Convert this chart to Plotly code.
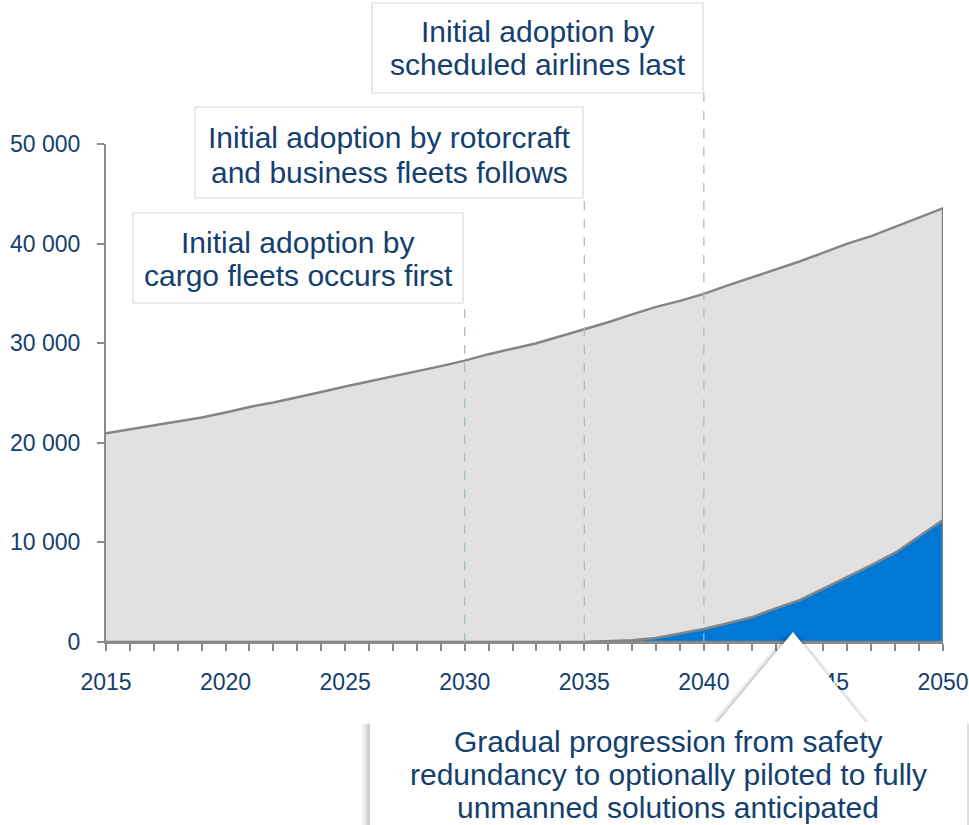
import plotly.graph_objects as go

# ---------------- data ----------------
years = list(range(2015, 2051))
total_fleet = [20950, 21350, 21750, 22150, 22550, 23050, 23600, 24050, 24550, 25100,
               25650, 26150, 26650, 27200, 27700, 28250, 28900, 29450, 30000, 30700,
               31400, 32100, 32900, 33650, 34250, 34950, 35800, 36600, 37400, 38200,
               39100, 40000, 40750, 41700, 42650, 43550]
auto_years = list(range(2035, 2051))
autonomous_fleet = [0, 80, 180, 400, 870, 1300, 1880, 2480, 3380, 4200,
                    5350, 6500, 7730, 8970, 10570, 12250]
major_ticks = [2015, 2020, 2025, 2030, 2035, 2040, 2045, 2050]
y_ticks = [0, 10000, 20000, 30000, 40000, 50000]

milestones = [2030, 2035, 2040]
milestone_text = [
    ["Initial adoption by", "cargo fleets occurs first"],
    ["Initial adoption by rotorcraft", "and business fleets follows"],
    ["Initial adoption by", "scheduled airlines last"],
]
callout_text = ["Gradual progression from safety",
                "redundancy to optionally piloted to fully",
                "unmanned solutions anticipated"]

# ---------------- layout helpers ----------------
W, H = 969, 825
L, R, T, B = 106, 943, 144, 642
PW, PH = R - L, B - T
TXT = "#13406E"
FONT = "Liberation Sans, Arial, sans-serif"


def px(x):
    return (x - L) / PW


def py(y):
    return (B - y) / PH


def path(points):
    s = "M " + " L ".join(f"{px(x):.5f},{py(y):.5f}" for x, y in points) + " Z"
    return s


fig = go.Figure()

fig.add_trace(go.Scatter(
    x=years + [years[-1], years[0]],
    y=total_fleet + [0, 0],
    fill="toself", fillcolor="#E1E1E1",
    line=dict(color="#858585", width=2.5),
    mode="lines", hoverinfo="skip", showlegend=False))

fig.add_trace(go.Scatter(
    x=auto_years + [auto_years[-1], auto_years[0]],
    y=autonomous_fleet + [0, 0],
    fill="toself", fillcolor="#0078D4",
    line=dict(color="#858585", width=2.5),
    mode="lines", hoverinfo="skip", showlegend=False))

shapes = []
boxes = [(133, 213, 463, 303), (195, 107, 583, 198), (372, 3, 703, 93)]
line_mid = [(242, 275), (137, 172), (31, 64)]

annotations = []
for yr, box, lines, mids in zip(milestones, boxes, milestone_text, line_mid):
    l, t, r, b = box
    shapes.append(dict(type="line", xref="x", yref="paper", x0=yr, x1=yr,
                       y0=0, y1=py(b), layer="above",
                       line=dict(color="#9FBBCB", width=1.2, dash="dash")))
    shapes.append(dict(type="rect", xref="paper", yref="paper",
                       x0=px(l), x1=px(r), y0=py(b), y1=py(t),
                       fillcolor="white", line=dict(color="#DADADA", width=1.2),
                       layer="above"))
    for txt, m in zip(lines, mids):
        annotations.append(dict(xref="paper", yref="paper", x=px((l + r) / 2), y=py(m),
                                text=txt, showarrow=False, xanchor="center", yanchor="middle",
                                font=dict(family=FONT, size=30, color=TXT)))

# bottom callout with soft shadow
callout = [(370, 722), (718, 722), (793, 632), (865, 722), (967, 722), (967, 830), (370, 830)]
for dx, dy, op in [(-9, 3, 0.03), (-7, 2, 0.04), (-5, 2, 0.05), (-3, 1, 0.07),
                   (3, 1, 0.06), (5, 2, 0.045), (7, 3, 0.03)]:
    shapes.append(dict(type="path", xref="paper", yref="paper",
                       path=path([(x + dx, y + dy) for x, y in callout]),
                       fillcolor=f"rgba(0,0,0,{op})", line=dict(width=0), layer="above"))
shapes.append(dict(type="path", xref="paper", yref="paper", path=path(callout),
                   fillcolor="white", line=dict(width=0), layer="above"))
for txt, m in zip(callout_text, [741, 774, 807]):
    annotations.append(dict(xref="paper", yref="paper", x=px(668), y=py(m),
                            text=txt, showarrow=False, xanchor="center", yanchor="middle",
                            font=dict(family=FONT, size=30, color=TXT)))

fig.update_layout(
    width=W, height=H,
    margin=dict(l=L, r=W - R, t=T, b=H - B, pad=0, autoexpand=False),
    paper_bgcolor="white", plot_bgcolor="white",
    separators=". ",
    font=dict(family=FONT, color=TXT),
    shapes=shapes, annotations=annotations,
    showlegend=False,
)
fig.update_xaxes(
    range=[2015, 2050], tickvals=major_ticks, showgrid=False, zeroline=False,
    showline=True, linecolor="#8A8A8A", linewidth=2, automargin=False,
    ticks="outside", ticklen=7, tickcolor="#8A8A8A", tickwidth=1.5,
    minor=dict(dtick=1, ticks="outside", ticklen=7, tickcolor="#8A8A8A", tickwidth=1.5),
    tickfont=dict(family=FONT, size=23, color=TXT), ticklabelstandoff=11,
)
fig.update_yaxes(
    range=[0, 50000], tickvals=y_ticks, tickformat=",", showgrid=False, zeroline=False,
    showline=True, linecolor="#8A8A8A", linewidth=2, automargin=False,
    ticks="outside", ticklen=7, tickcolor="#8A8A8A", tickwidth=1.5,
    tickfont=dict(family=FONT, size=23, color=TXT), ticklabelstandoff=12,
)

fig.write_html("out.html", config={"displayModeBar": False},
               post_script="document.body.style.margin='0px';")
